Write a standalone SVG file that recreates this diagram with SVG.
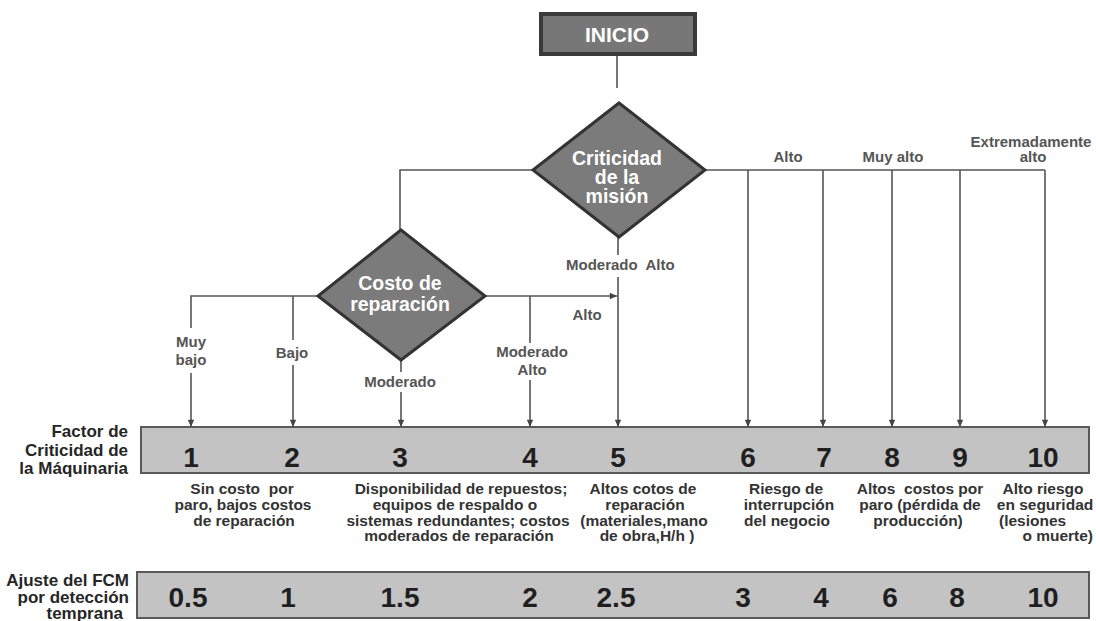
<svg xmlns="http://www.w3.org/2000/svg" width="1096" height="621" viewBox="0 0 1096 621">
  <style>
    text { font-family: "Liberation Sans", Arial, sans-serif; }
    .title { font-weight: bold; fill: #ffffff; text-anchor: middle; font-size: 19.5px; }
    .lbl { font-weight: bold; fill: #555555; text-anchor: middle; font-size: 15px; }
    .side { font-weight: bold; fill: #262626; text-anchor: end; font-size: 17px; }
    .num { font-weight: bold; fill: #1f1f1f; text-anchor: middle; font-size: 28px; }
    .desc { font-weight: bold; fill: #333333; text-anchor: middle; font-size: 15.5px; }
    .start { text-anchor: start; }
    .end { text-anchor: end; }
    .wire { fill: none; stroke: #555555; stroke-width: 1.6; }
    .arrow { marker-end: url(#head); }
    .decision { fill: #7b7b7b; stroke: #333333; stroke-width: 3; stroke-linejoin: miter; }
    .scale { fill: #c3c3c3; stroke: #5a5a5a; stroke-width: 2; }
  </style>
  <defs>
    <marker id="head" markerUnits="userSpaceOnUse" markerWidth="9" markerHeight="9" viewBox="0 0 10 10" refX="9" refY="5" orient="auto">
      <path d="M1,1.5 L9,5 L1,8.5 Z" fill="#444444"/>
    </marker>
  </defs>

  <rect width="1096" height="621" fill="#ffffff"/>

  <!-- connectors -->
  <g id="connectors" class="wire">
    <path d="M617,55 V88"/>
    <!-- branches of "Criticidad de la misión" -->
    <path d="M533,170 H400 V230"/>
    <path d="M618,237 V255"/>
    <path class="arrow" d="M618,277 V427"/>
    <path d="M705,170 H1045"/>
    <path class="arrow" d="M748,170 V427"/>
    <path class="arrow" d="M823,170 V427"/>
    <path class="arrow" d="M892,170 V427"/>
    <path class="arrow" d="M960,170 V427"/>
    <path class="arrow" d="M1045,170 V427"/>
    <!-- branches of "Costo de reparación" -->
    <path d="M318,296 H191 V328"/>
    <path class="arrow" d="M191,373 V427"/>
    <path d="M293,296 V340"/>
    <path class="arrow" d="M293,365 V427"/>
    <path d="M401,360 V372"/>
    <path class="arrow" d="M401,392 V427"/>
    <path d="M485,296 H530"/>
    <path d="M530,296 V343"/>
    <path class="arrow" d="M530,380 V427"/>
    <path class="arrow" d="M530,296 H617"/>
  </g>

  <g id="inicio">
    <rect x="541" y="14" width="154" height="40" fill="#777777" stroke="#3a3a3a" stroke-width="4"/>
    <text class="title" x="617" y="42" style="font-size:21px">INICIO</text>
  </g>

  <g id="criticidad-mision">
    <polygon class="decision" points="619,103 705,170 619,237 533,170"/>
    <text class="title" x="617" y="165">Criticidad</text>
    <text class="title" x="617" y="184">de la</text>
    <text class="title" x="617" y="203">misión</text>
  </g>

  <g id="costo-reparacion">
    <polygon class="decision" points="401,230 485,296 401,360 318,296"/>
    <text class="title" x="400" y="290">Costo de</text>
    <text class="title" x="400" y="311">reparación</text>
  </g>

  <!-- branch labels -->
  <g id="branch-labels">
    <text class="lbl" x="191" y="347">Muy</text>
    <text class="lbl" x="191" y="365">bajo</text>
    <text class="lbl" x="292" y="358">Bajo</text>
    <text class="lbl" x="400" y="387">Moderado</text>
    <text class="lbl" x="532" y="357">Moderado</text>
    <text class="lbl" x="532" y="375">Alto</text>
    <text class="lbl" x="587" y="320">Alto</text>
    <text class="lbl start" x="566" y="270" xml:space="preserve">Moderado  Alto</text>
    <text class="lbl" x="788" y="162">Alto</text>
    <text class="lbl" x="893" y="162">Muy alto</text>
    <text class="lbl" x="1031" y="147">Extremadamente</text>
    <text class="lbl" x="1033" y="162">alto</text>
  </g>

  <g id="factor-criticidad">
    <text class="side" x="128" y="437">Factor de</text>
    <text class="side" x="128" y="456">Criticidad de</text>
    <text class="side" x="128" y="474">la Máquinaria</text>
    <rect class="scale" x="141" y="427" width="948" height="46"/>
    <text class="num" x="191" y="467">1</text>
    <text class="num" x="292" y="467">2</text>
    <text class="num" x="400" y="467">3</text>
    <text class="num" x="530" y="467">4</text>
    <text class="num" x="618" y="467">5</text>
    <text class="num" x="748" y="467">6</text>
    <text class="num" x="824" y="467">7</text>
    <text class="num" x="892" y="467">8</text>
    <text class="num" x="960" y="467">9</text>
    <text class="num" x="1043" y="467">10</text>
  </g>

  <g id="descripciones">
    <text class="desc" x="242" y="494" xml:space="preserve">Sin costo  por</text>
    <text class="desc" x="243" y="510">paro, bajos costos</text>
    <text class="desc" x="244" y="526">de reparación</text>

    <text class="desc" x="461" y="494">Disponibilidad de repuestos;</text>
    <text class="desc" x="455" y="510">equipos de respaldo o</text>
    <text class="desc" x="458" y="526">sistemas redundantes; costos</text>
    <text class="desc" x="459" y="541">moderados de reparación</text>

    <text class="desc" x="643" y="494">Altos cotos de</text>
    <text class="desc" x="645" y="510">reparación</text>
    <text class="desc" x="644" y="526">(materiales,mano</text>
    <text class="desc" x="647" y="541">de obra,H/h )</text>

    <text class="desc" x="786" y="494">Riesgo de</text>
    <text class="desc" x="789" y="510">interrupción</text>
    <text class="desc" x="787" y="526">del negocio</text>

    <text class="desc" x="920" y="494" xml:space="preserve">Altos  costos por</text>
    <text class="desc" x="920" y="510">paro (pérdida de</text>
    <text class="desc" x="918" y="526">producción)</text>

    <text class="desc" x="1043" y="494">Alto riesgo</text>
    <text class="desc" x="1045" y="510">en seguridad</text>
    <text class="desc start" x="999" y="526">(lesiones</text>
    <text class="desc end" x="1093" y="541">o muerte)</text>
  </g>

  <g id="ajuste-fcm">
    <text class="side" x="129" y="586">Ajuste del FCM</text>
    <text class="side" x="129" y="603">por detección</text>
    <text class="side" x="123" y="619">temprana</text>
    <rect class="scale" x="137" y="572" width="952" height="46"/>
    <text class="num" x="188" y="607">0.5</text>
    <text class="num" x="288" y="607">1</text>
    <text class="num" x="400" y="607">1.5</text>
    <text class="num" x="530" y="607">2</text>
    <text class="num" x="616" y="607">2.5</text>
    <text class="num" x="743" y="607">3</text>
    <text class="num" x="821" y="607">4</text>
    <text class="num" x="890" y="607">6</text>
    <text class="num" x="957" y="607">8</text>
    <text class="num" x="1043" y="607">10</text>
  </g>
</svg>
